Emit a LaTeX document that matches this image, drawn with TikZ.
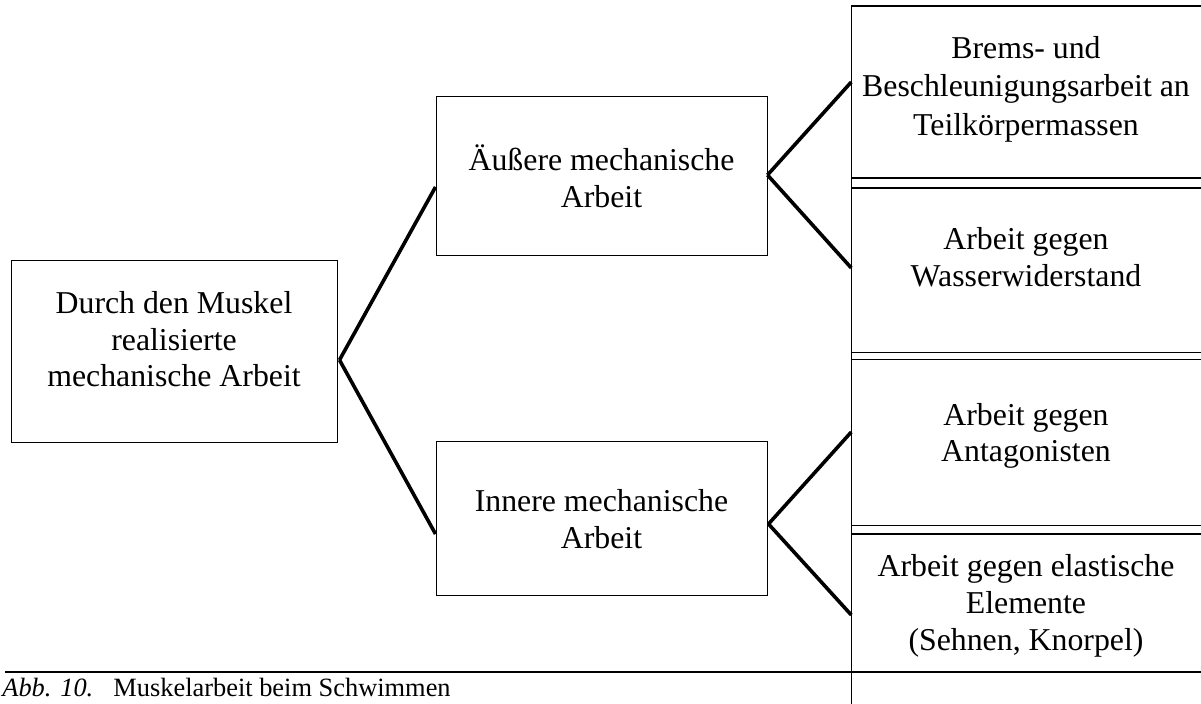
\documentclass[tikz,border=0pt]{standalone}
\usepackage{fontspec}
\setmainfont{Liberation Serif}
\usetikzlibrary{positioning,calc}

\begin{document}
\begin{tikzpicture}[x=0.5pt,y=-0.5pt,
  box/.style={draw,line width=0.5pt,align=center,inner sep=0pt,font=\fontsize{15.9}{18.4}\selectfont},
  cell/.style={align=center,inner sep=0pt,minimum width=174.3pt,font=\fontsize{15.9}{18.4}\selectfont},
  rule/.style={line width=0.6pt},
  fork/.style={line width=1.8pt}]
  \clip (0,0) rectangle (1201,704);
  % Baum links
  \node[box,minimum width=163pt,minimum height=91pt] (muskel) at (174,352) {Durch den Muskel\\realisierte\\mechanische Arbeit\\[-5.4pt]};
  \node[box,minimum width=165.5pt,minimum height=79.5pt] (aussen) at (601.5,176.5) {Äußere mechanische\\Arbeit};
  \node[box,minimum width=165.5pt,minimum height=77pt,below=92.5pt of aussen] (innen) {Innere mechanische\\Arbeit};
  % rechte Spalte
  \node[cell,font=\fontsize{15.9}{19.2}\selectfont] (brems) at (1026,89) {Brems- und\\Beschleunigungsarbeit an\\Teilkörpermassen};
  \node[cell] (wasser) at (1026,257) {Arbeit gegen\\Wasserwiderstand};
  \node[cell] (antag) at (1026,436) {Arbeit gegen\\Antagonisten};
  \node[cell] (elast) at (1026,606) {Arbeit gegen elastische\\Elemente\\(Sehnen, Knorpel)};
  \draw[rule] (brems.west |- 0,6) rectangle (1215,178);
  \draw[rule] (wasser.west |- 0,188) rectangle (1215,352.7);
  \draw[rule] (antag.west |- 0,359.5) rectangle (1215,525.7);
  \draw[rule] (elast.west |- 0,534) rectangle (1215,672);
  \draw[rule] (brems.west |- 0,6) -- (elast.west |- 0,704);
  % Verbindungen
  \coordinate (j1) at ($(muskel.east)+(2,8)$);
  \draw[fork] (j1) -- ([yshift=-5.25pt]aussen.west);
  \draw[fork] (j1) -- ([yshift=-7.5pt]innen.west);
  \coordinate (j2) at ($(aussen.east)+(0,-1.5)$);
  \draw[fork] (j2) -- ([yshift=3.5pt]brems.west);
  \draw[fork] (j2) -- ([yshift=-5.5pt]wasser.west);
  \coordinate (j3) at ($(innen.east)+(1,5)$);
  \draw[fork] (j3) -- ([yshift=2pt]antag.west);
  \draw[fork] (j3) -- ([yshift=-4.5pt]elast.west);
  % Abbildungsunterschrift
  \draw[line width=1pt] (5,672) -- (1215,672);
  \node[anchor=base west,inner sep=0pt,font=\fontsize{13.2}{15}\selectfont] (caption) at (2,697)
    {\makebox[55.5pt][l]{\itshape Abb. 10.}Muskelarbeit beim Schwimmen};
\end{tikzpicture}
\end{document}
